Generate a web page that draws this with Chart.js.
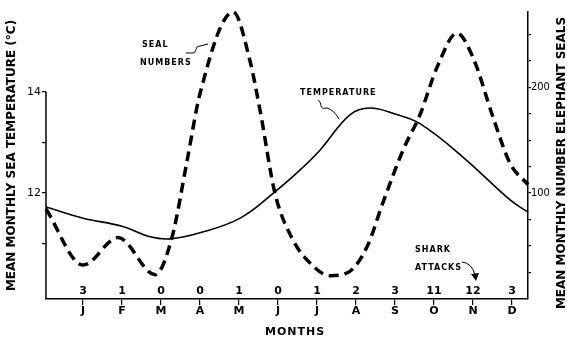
<!DOCTYPE html>
<html>
<head>
<meta charset="utf-8">
<script src="https://cdn.jsdelivr.net/npm/chart.js@4"></script>
<style>
  body { margin: 0; background: #fff; }
</style>
</head>
<body>
<canvas id="myChart" width="567" height="337"></canvas>
<script>
const monthLabels = ['J', 'F', 'M', 'A', 'M', 'J', 'J', 'A', 'S', 'O', 'N', 'D'];
const sharkAttacks = [3, 1, 0, 0, 1, 0, 1, 2, 3, 11, 12, 3];

// month position (1 = Jan) and value
const tempMonths = [0.05, 1, 2, 2.72, 3.23, 4, 5.03, 5.92, 6.56, 7.08, 7.85, 8.36, 9, 9.64, 10.74, 11.95, 12.41];
const tempValues = [11.72, 11.5, 11.34, 11.13, 11.09, 11.21, 11.5, 12.02, 12.45, 12.85, 13.55, 13.68, 13.56, 13.37, 12.71, 11.86, 11.62];

const sealMonths = [0.05, 1, 1.9, 2.85, 3.28, 3.67, 4, 4.85, 5.28, 5.54, 5.92, 6.38, 6.82, 7.33, 7.79, 8.28, 8.69, 9.21, 9.64, 10.08, 10.59, 11, 11.51, 11.95, 12.41];
const sealValues = [85, 32, 58, 23, 58, 131, 194, 271, 225, 178, 100, 56, 34, 22, 25, 49, 91, 141, 174, 219, 251, 228, 172, 128, 108];

const tempTicks = [11, 12, 13, 14];
const sealTicks = [25, 50, 75, 100, 125, 150, 175, 200, 225, 250];

const font = '"DejaVu Sans", sans-serif';

document.addEventListener('DOMContentLoaded', function() {
    const ctx = document.getElementById('myChart').getContext('2d');

    const annotate = {
        id: 'annotate',
        afterDraw(chart) {
            const c = chart.ctx;
            const a = chart.chartArea;
            const x = chart.scales.x;
            const yT = chart.scales.yT;
            c.save();
            c.strokeStyle = '#000';
            c.fillStyle = '#000';

            // left axis only runs up to 14
            c.lineWidth = 1.5;
            c.beginPath();
            c.moveTo(a.left, yT.getPixelForValue(14));
            c.lineTo(a.left, a.bottom);
            c.stroke();

            // shark attack counts per month
            c.font = 'bold 11px ' + font;
            c.textAlign = 'center';
            c.textBaseline = 'middle';
            sharkAttacks.forEach((n, i) => {
                c.fillText(String(n), x.getPixelForValue(i + 1), 291);
            });

            c.letterSpacing = '1px';
            c.fillText('MONTHS', 295, 332);

            // small labels
            c.font = 'bold 8px ' + font;
            c.textAlign = 'left';
            c.fillText('SEAL', 142, 45);
            c.fillText('NUMBERS', 140, 63);
            c.fillText('TEMPERATURE', 300, 93);
            c.fillText('SHARK', 415, 250);
            c.fillText('ATTACKS', 415, 268);
            c.letterSpacing = '0px';

            c.lineWidth = 1;
            c.beginPath();
            c.moveTo(186, 53);
            c.lineTo(192, 53);
            c.bezierCurveTo(198, 53, 194, 46, 200, 46);
            c.lineTo(208, 44);
            c.stroke();

            c.beginPath();
            c.moveTo(318, 100);
            c.bezierCurveTo(323, 103, 318, 110, 327, 108);
            c.quadraticCurveTo(334, 110, 339, 119);
            c.stroke();

            c.beginPath();
            c.moveTo(462, 262);
            c.quadraticCurveTo(472, 263, 475, 275);
            c.stroke();
            c.beginPath();
            c.moveTo(471, 274);
            c.lineTo(479, 273);
            c.lineTo(476, 281);
            c.closePath();
            c.fill();

            // right axis title reads bottom to top
            c.font = 'bold 12px ' + font;
            c.textAlign = 'center';
            c.translate(562, 163);
            c.rotate(-Math.PI / 2);
            c.fillText('MEAN MONTHLY NUMBER ELEPHANT SEALS', 0, 0);
            c.restore();
        }
    };

    const data = {
        datasets: [{
            label: 'Temperature',
            data: tempMonths.map((m, i) => ({ x: m, y: tempValues[i] })),
            yAxisID: 'yT',
            borderColor: '#000',
            borderWidth: 1.6,
            pointRadius: 0,
            tension: 0.4,
            fill: false,
            clip: false
        }, {
            label: 'Seal numbers',
            data: sealMonths.map((m, i) => ({ x: m, y: sealValues[i] })),
            yAxisID: 'yS',
            borderColor: '#000',
            borderWidth: 3.5,
            borderDash: [10, 6],
            borderCapStyle: 'butt',
            pointRadius: 0,
            cubicInterpolationMode: 'monotone',
            fill: false,
            clip: false
        }]
    };

    const config = {
        type: 'line',
        data: data,
        options: {
            responsive: false,
            animation: false,
            layout: { padding: { top: 12 } },
            scales: {
                x: {
                    type: 'linear',
                    min: 0.05,
                    max: 12.41,
                    afterBuildTicks: s => { s.ticks = monthLabels.map((_, i) => ({ value: i + 1 })); },
                    afterFit: s => { s.height = 38; },
                    ticks: {
                        autoSkip: false,
                        maxRotation: 0,
                        padding: 0,
                        color: '#000',
                        font: { family: font, size: 11, weight: 'bold' },
                        callback: v => monthLabels[v - 1]
                    },
                    grid: { drawOnChartArea: false, tickLength: 6, color: '#000', lineWidth: 1.2 },
                    border: { display: true, color: '#000', width: 1.5 }
                },
                yT: {
                    type: 'linear',
                    position: 'left',
                    min: 9.9,
                    max: 15.58,
                    afterBuildTicks: s => { s.ticks = tempTicks.map(v => ({ value: v })); },
                    afterFit: s => { s.width = 46; },
                    ticks: {
                        padding: 1,
                        color: '#000',
                        font: { family: font, size: 11 },
                        callback: v => (v === 12 || v === 14) ? String(v) : ''
                    },
                    grid: { drawOnChartArea: false, tickLength: 4, color: '#000', lineWidth: 1.2 },
                    border: { display: false },
                    title: {
                        display: true,
                        text: 'MEAN MONTHLY SEA TEMPERATURE (°C)',
                        color: '#000',
                        font: { family: font, size: 12, weight: 'bold' },
                        padding: { top: 5, bottom: 0 }
                    }
                },
                yS: {
                    type: 'linear',
                    position: 'right',
                    min: 0,
                    max: 271,
                    afterBuildTicks: s => { s.ticks = sealTicks.map(v => ({ value: v })); },
                    afterFit: s => { s.width = 39; },
                    ticks: {
                        padding: 0,
                        color: '#000',
                        font: { family: '"DejaVu Sans Condensed", "DejaVu Sans", sans-serif', size: 11 },
                        callback: v => (v === 100 || v === 200) ? String(v) : ''
                    },
                    grid: { drawOnChartArea: false, tickLength: 3, color: '#000', lineWidth: 1.2 },
                    border: { display: true, color: '#000', width: 1.5 }
                }
            },
            plugins: {
                legend: { display: false },
                tooltip: { enabled: false }
            }
        },
        plugins: [annotate]
    };

    const myChart = new Chart(ctx, config);
});
</script>
</body>
</html>
